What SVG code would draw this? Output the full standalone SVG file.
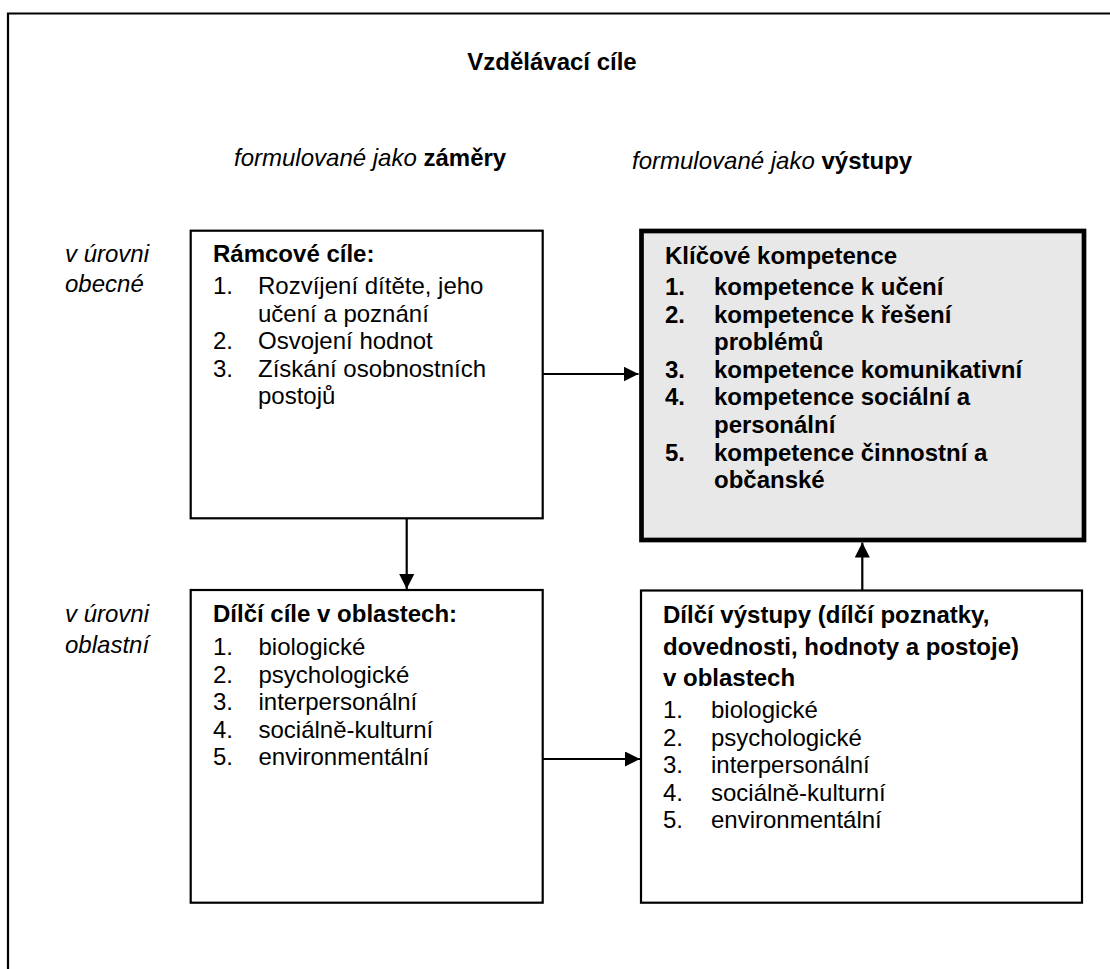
<svg xmlns="http://www.w3.org/2000/svg" width="1110" height="969" viewBox="0 0 1110 969">
<defs>
<style>
text{font-family:"Liberation Sans",Arial,sans-serif;font-size:24px;fill:#000}
.b{font-weight:bold}
.i{font-style:italic}
.box{fill:#fff;stroke:#000;stroke-width:2.2}
.key{fill:#e8e8e8;stroke:#000;stroke-width:4.7}
.con{stroke:#000;stroke-width:2.2;fill:none}
</style>
<marker id="ah" viewBox="0 0 15 15" refX="15" refY="7.5" markerWidth="15" markerHeight="15" markerUnits="userSpaceOnUse" orient="auto">
<path d="M0,0 L15,7.5 L0,15 Z" fill="#000"/>
</marker>
</defs>
<rect width="1110" height="969" fill="#fff"/>
<path d="M8,969 V13.5 H1110" fill="none" stroke="#000" stroke-width="2.2"/>
<g id="headings">
<text x="552" y="70" class="b" text-anchor="middle">Vzdělávací cíle</text>
<text x="234" y="166"><tspan class="i">formulované jako </tspan><tspan class="b">záměry</tspan></text>
<text x="632" y="169"><tspan class="i">formulované jako </tspan><tspan class="b">výstupy</tspan></text>
<text x="65" y="262" class="i">v úrovni</text>
<text x="65" y="292" class="i">obecné</text>
<text x="65" y="622" class="i">v úrovni</text>
<text x="65" y="653" class="i">oblastní</text>
</g>
<g id="ramcove-cile">
<rect class="box" x="190.7" y="230.7" width="352" height="287.6"/>
<text x="213" y="262" class="b">Rámcové cíle:</text>
<text x="213" y="294">1.</text><text x="258" y="294">Rozvíjení dítěte, jeho</text>
<text x="258" y="321.6">učení a poznání</text>
<text x="213" y="349.2">2.</text><text x="258" y="349.2">Osvojení hodnot</text>
<text x="213" y="376.8">3.</text><text x="258" y="376.8">Získání osobnostních</text>
<text x="258" y="404.4">postojů</text>
</g>
<g id="klicove-kompetence">
<rect class="key" x="641.5" y="231" width="442.5" height="309"/>
<g class="b">
<text x="665" y="264" class="b">Klíčové kompetence</text>
<text x="665" y="295" class="b">1.</text><text x="714" y="295" class="b">kompetence k učení</text>
<text x="665" y="322.6" class="b">2.</text><text x="714" y="322.6" class="b">kompetence k řešení</text>
<text x="714" y="350.2" class="b">problémů</text>
<text x="665" y="377.8" class="b">3.</text><text x="714" y="377.8" class="b">kompetence komunikativní</text>
<text x="665" y="405.4" class="b">4.</text><text x="714" y="405.4" class="b">kompetence sociální a</text>
<text x="714" y="433" class="b">personální</text>
<text x="665" y="460.6" class="b">5.</text><text x="714" y="460.6" class="b">kompetence činnostní a</text>
<text x="714" y="488.2" class="b">občanské</text>
</g>
</g>
<g id="dilci-cile">
<rect class="box" x="190.7" y="590" width="352" height="312.7"/>
<text x="213" y="622" class="b">Dílčí cíle v oblastech:</text>
<text x="213" y="655">1.</text><text x="258.5" y="655">biologické</text>
<text x="213" y="682.6">2.</text><text x="258.5" y="682.6">psychologické</text>
<text x="213" y="710.2">3.</text><text x="258.5" y="710.2">interpersonální</text>
<text x="213" y="737.8">4.</text><text x="258.5" y="737.8">sociálně-kulturní</text>
<text x="213" y="765.4">5.</text><text x="258.5" y="765.4">environmentální</text>
</g>
<g id="dilci-vystupy">
<rect class="box" x="641" y="590.5" width="441" height="312.2"/>
<text x="663" y="623" class="b">Dílčí výstupy (dílčí poznatky,</text>
<text x="663" y="654.5" class="b">dovednosti, hodnoty a postoje)</text>
<text x="663" y="686" class="b">v oblastech</text>
<text x="663" y="718">1.</text><text x="711" y="718">biologické</text>
<text x="663" y="745.6">2.</text><text x="711" y="745.6">psychologické</text>
<text x="663" y="773.2">3.</text><text x="711" y="773.2">interpersonální</text>
<text x="663" y="800.8">4.</text><text x="711" y="800.8">sociálně-kulturní</text>
<text x="663" y="828.4">5.</text><text x="711" y="828.4">environmentální</text>
</g>
<g id="connectors">
<line class="con" x1="542.7" y1="374" x2="638.5" y2="374" marker-end="url(#ah)"/>
<line class="con" x1="406.7" y1="518.3" x2="406.7" y2="589" marker-end="url(#ah)"/>
<line class="con" x1="542.7" y1="759" x2="640" y2="759" marker-end="url(#ah)"/>
<line class="con" x1="862.3" y1="590.5" x2="862.3" y2="542.5" marker-end="url(#ah)"/>
</g>
</svg>
